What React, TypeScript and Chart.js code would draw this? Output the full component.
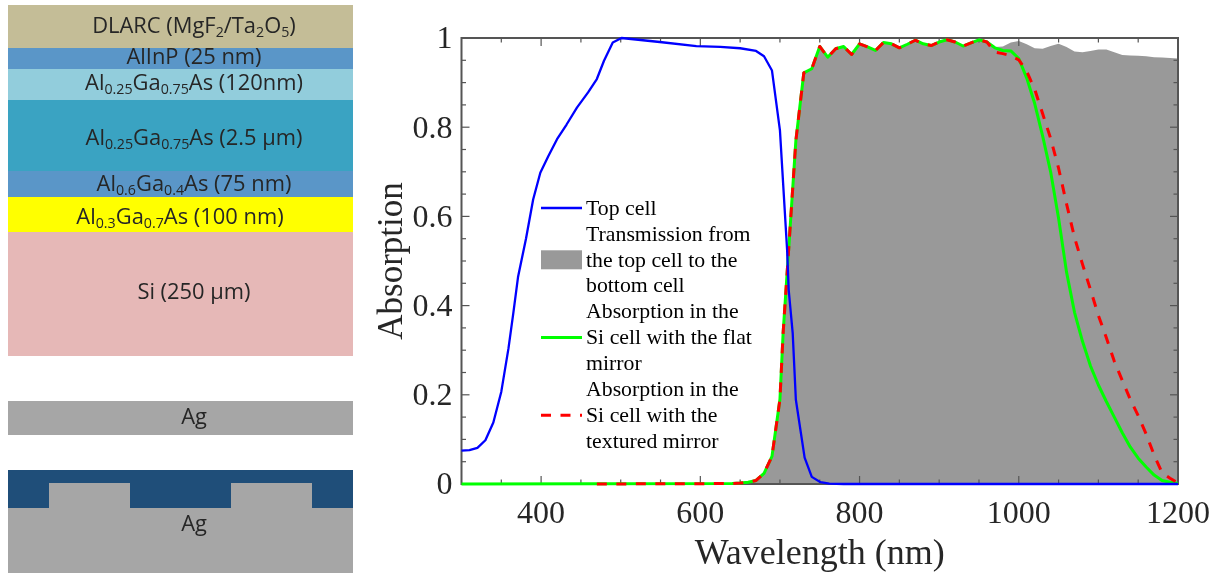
import React, { useEffect, useRef } from "react";
import { Chart, registerables } from "chart.js";

Chart.register(...registerables);

const topCellWl = [300, 310, 320, 330, 340, 350, 359, 365, 371, 381, 390, 399, 409, 420, 432, 445, 459, 470, 479, 490, 501, 549, 595, 625, 650, 670, 680, 690, 700, 709, 711, 716, 720, 731, 740, 751, 762, 780, 1200];
const topCellAbs = [0.075, 0.076, 0.081, 0.098, 0.138, 0.207, 0.304, 0.382, 0.464, 0.55, 0.638, 0.698, 0.735, 0.773, 0.806, 0.844, 0.878, 0.908, 0.949, 0.99, 1.0, 0.991, 0.982, 0.98, 0.977, 0.971, 0.959, 0.927, 0.793, 0.525, 0.435, 0.339, 0.189, 0.059, 0.016, 0.004, 0.001, 0, 0];

const siWl = [300, 640, 650, 660, 670, 680, 690, 700, 704, 710, 720, 730, 740, 750, 760, 770, 780, 790, 800, 810, 820, 830, 840, 850, 860, 870, 880, 890, 900, 910, 920, 930, 940, 950, 960];
const siRising = [0, 0.001, 0.002, 0.004, 0.008, 0.024, 0.062, 0.19, 0.339, 0.5, 0.77, 0.922, 0.931, 0.981, 0.957, 0.976, 0.981, 0.963, 0.987, 0.98, 0.972, 0.99, 0.987, 0.978, 0.986, 0.995, 0.987, 0.983, 0.991, 0.996, 0.991, 0.982, 0.989, 0.996, 0.991];
const texturedStartWl = 470;

const tailWl = [970, 980, 990, 1000, 1010, 1020, 1030, 1040, 1050, 1060, 1070, 1080, 1090, 1100, 1110, 1120, 1130, 1140, 1150, 1160, 1170, 1180, 1190, 1200];
const transmissionTail = [0.98, 0.981, 0.99, 0.993, 0.986, 0.977, 0.976, 0.982, 0.987, 0.98, 0.97, 0.968, 0.971, 0.974, 0.974, 0.968, 0.962, 0.961, 0.96, 0.959, 0.957, 0.956, 0.955, 0.954];
const flatMirrorTail = [0.978, 0.972, 0.971, 0.954, 0.91, 0.853, 0.78, 0.7, 0.596, 0.475, 0.385, 0.32, 0.265, 0.222, 0.185, 0.15, 0.115, 0.083, 0.058, 0.038, 0.02, 0.008, 0.004, 0.001];
const texturedMirrorTail = [0.968, 0.965, 0.96, 0.951, 0.925, 0.885, 0.83, 0.775, 0.708, 0.628, 0.553, 0.493, 0.436, 0.378, 0.328, 0.275, 0.232, 0.19, 0.153, 0.112, 0.065, 0.025, 0.013, 0.002];

const xMajorTicks = [400, 600, 800, 1000, 1200];
const xMinorTicks = [350, 450, 500, 550, 650, 700, 750, 850, 900, 950, 1050, 1100, 1150];
const yMajorTicks = [0, 0.2, 0.4, 0.6, 0.8, 1];
const yMinorTicks = [0.05, 0.1, 0.15, 0.25, 0.3, 0.35, 0.45, 0.5, 0.55, 0.65, 0.7, 0.75, 0.85, 0.9, 0.95];

const legendTopCell = ["Top cell"];
const legendTransmission = ["Transmission from", "the top cell to the", "bottom cell"];
const legendFlat = ["Absorption in the", "Si cell with the flat", "mirror"];
const legendTextured = ["Absorption in the", "Si cell with the", "textured mirror"];

const pairs = (xs: number[], ys: number[]) => xs.map((x, i) => ({ x, y: ys[i] }));
const allWl = [...siWl, ...tailWl];

const AXIS = "#555555";
const SERIF = "'Liberation Serif', 'Times New Roman', serif";
const GRAY_INDEX = 3;

const framePlugin = {
  id: "frame",
  afterDatasetDraw(chart: any, args: any) {
    if (args.index !== GRAY_INDEX) return;
    const { ctx, chartArea: a, scales } = chart;
    const x = scales.x;
    const y = scales.y;
    ctx.save();
    ctx.strokeStyle = AXIS;
    ctx.lineWidth = 1.2;
    const tick = (x1: number, y1: number, x2: number, y2: number) => {
      ctx.beginPath();
      ctx.moveTo(x1, y1);
      ctx.lineTo(x2, y2);
      ctx.stroke();
    };
    const xt = (v: number, len: number) => {
      const p = x.getPixelForValue(v);
      tick(p, a.bottom, p, a.bottom - len);
      tick(p, a.top, p, a.top + len);
    };
    const yt = (v: number, len: number) => {
      const p = y.getPixelForValue(v);
      tick(a.left, p, a.left + len, p);
      tick(a.right, p, a.right - len, p);
    };
    xMajorTicks.forEach((v) => xt(v, 8));
    xMinorTicks.forEach((v) => xt(v, 4.5));
    yMajorTicks.forEach((v) => yt(v, 8));
    yMinorTicks.forEach((v) => yt(v, 4.5));
    ctx.lineWidth = 2;
    ctx.strokeRect(a.left, a.top, a.right - a.left, a.bottom - a.top);
    ctx.restore();
  },
};

const legendPlugin = {
  id: "sideLegend",
  afterDraw(chart: any) {
    const { ctx, data } = chart;
    const x0 = 541;
    const x1 = 582;
    const textX = 586;
    const lineGap = 25.9;
    let row = 0;
    const order = [0, 3, 2, 1];
    ctx.save();
    ctx.font = `21.8px ${SERIF}`;
    ctx.textBaseline = "middle";
    ctx.textAlign = "left";
    ctx.fillStyle = "#000000";
    for (const idx of order) {
      const ds: any = data.datasets[idx];
      const lines: string[] = ds.legendLines;
      const midY = 208 + lineGap * (row + (lines.length - 1) / 2);
      if (ds.fill) {
        ctx.fillStyle = ds.backgroundColor;
        ctx.fillRect(x0, midY - 9.5, x1 - x0, 19);
        ctx.fillStyle = "#000000";
      } else {
        ctx.strokeStyle = ds.borderColor;
        ctx.lineWidth = ds.borderWidth;
        ctx.setLineDash(ds.borderDash || []);
        ctx.beginPath();
        ctx.moveTo(x0, midY);
        ctx.lineTo(x1, midY);
        ctx.stroke();
        ctx.setLineDash([]);
      }
      lines.forEach((t, i) => ctx.fillText(t, textX, 209 + lineGap * (row + i)));
      row += lines.length;
    }
    ctx.restore();
  },
};

function Box(p: { l: number; t: number; r: number; b: number; c: string }) {
  return (
    <div
      style={{
        position: "absolute",
        left: p.l,
        top: p.t,
        width: p.r - p.l,
        height: p.b - p.t,
        background: p.c,
      }}
    />
  );
}

function Label(p: { cx: number; cy: number; children: React.ReactNode }) {
  return (
    <div
      style={{
        position: "absolute",
        left: p.cx - 170,
        top: p.cy - 15,
        width: 340,
        height: 30,
        lineHeight: "30px",
        textAlign: "center",
        whiteSpace: "nowrap",
        fontFamily: "'Open Sans', sans-serif",
        fontSize: 21.9,
        color: "#262626",
      }}
    >
      {p.children}
    </div>
  );
}

const subStyle: React.CSSProperties = { fontSize: "0.65em", lineHeight: 0, verticalAlign: "-0.3em" };
const S = (p: { children: React.ReactNode }) => <span style={subStyle}>{p.children}</span>;

export default function App() {
  const ref = useRef<HTMLCanvasElement>(null);
  useEffect(() => {
    const chart = new Chart(ref.current as HTMLCanvasElement, {
      type: "line",
      data: {
        datasets: [
          {
            label: "Top cell",
            legendLines: legendTopCell,
            data: pairs(topCellWl, topCellAbs),
            borderColor: "#0000ff",
            borderWidth: 2.3,
            fill: false,
            clip: 4,
          },
          {
            label: "Absorption in the Si cell with the textured mirror",
            legendLines: legendTextured,
            data: pairs(allWl, [...siRising, ...texturedMirrorTail]).map((p) =>
              p.x === 300 ? { x: texturedStartWl, y: p.y } : p
            ),
            borderColor: "#ff0000",
            borderWidth: 3,
            borderDash: [10, 9.5],
            fill: false,
            clip: 4,
          },
          {
            label: "Absorption in the Si cell with the flat mirror",
            legendLines: legendFlat,
            data: pairs(allWl, [...siRising, ...flatMirrorTail]),
            borderColor: "#00ff00",
            borderWidth: 3,
            fill: false,
            clip: 4,
          },
          {
            label: "Transmission from the top cell to the bottom cell",
            legendLines: legendTransmission,
            data: pairs(allWl, [...siRising, ...transmissionTail]),
            borderWidth: 0,
            borderColor: "#999999",
            backgroundColor: "#999999",
            fill: "origin",
          },
        ] as any,
      },
      options: {
        responsive: false,
        animation: false,
        parsing: false,
        elements: { point: { radius: 0 }, line: { tension: 0, borderJoinStyle: "round" } },
        layout: { padding: { left: 372, right: 44, top: 38, bottom: 0 } },
        plugins: { legend: { display: false }, tooltip: { enabled: false } },
        scales: {
          x: {
            type: "linear",
            min: 300,
            max: 1200,
            afterBuildTicks: (s: any) => {
              s.ticks = xMajorTicks.map((value) => ({ value }));
            },
            afterFit: (s: any) => {
              s.height = 90;
            },
            grid: { display: false, drawTicks: false },
            border: { display: false },
            ticks: {
              autoSkip: false,
              maxRotation: 0,
              padding: 11,
              color: "#262626",
              font: { family: SERIF, size: 32 },
              callback: (v: any) => String(v),
            },
            title: {
              display: true,
              text: "Wavelength (nm)",
              color: "#262626",
              font: { family: SERIF, size: 36 },
              padding: { top: 3, bottom: -2.5 },
            },
          },
          y: {
            type: "linear",
            min: 0,
            max: 1,
            afterBuildTicks: (s: any) => {
              s.ticks = yMajorTicks.map((value) => ({ value }));
            },
            afterFit: (s: any) => {
              s.width = 89.5;
            },
            grid: { display: false, drawTicks: false },
            border: { display: false },
            ticks: {
              autoSkip: false,
              padding: 9,
              labelOffset: 2,
              color: "#262626",
              font: { family: SERIF, size: 32 },
              callback: (v: any) => String(v),
            },
            title: {
              display: true,
              text: "Absorption",
              color: "#262626",
              font: { family: SERIF, size: 35 },
              padding: 0,
            },
          },
        },
      } as any,
      plugins: [framePlugin, legendPlugin],
    });
    return () => chart.destroy();
  }, []);

  return (
    <div style={{ position: "absolute", left: 0, top: 0, width: 1222, height: 574, background: "#ffffff", overflow: "hidden" }}>
      <canvas ref={ref} width={1222} height={574} style={{ display: "block", position: "absolute", left: 0, top: 0 }} />
      <Box l={8} r={353} t={5} b={48} c="#C4BD97" />
      <Box l={8} r={353} t={48} b={69} c="#5A96C8" />
      <Box l={8} r={353} t={69} b={100} c="#92CDDC" />
      <Box l={8} r={353} t={100} b={171} c="#3AA3C2" />
      <Box l={8} r={353} t={171} b={197} c="#5A96C8" />
      <Box l={8} r={353} t={197} b={232} c="#FFFF00" />
      <Box l={8} r={353} t={232} b={356} c="#E6B8B7" />
      <Box l={8} r={353} t={401} b={435} c="#A6A6A6" />
      <Box l={8} r={353} t={470} b={508} c="#1F4E79" />
      <Box l={8} r={353} t={508} b={573} c="#A6A6A6" />
      <Box l={49} r={130} t={483} b={508} c="#A6A6A6" />
      <Box l={231} r={312} t={483} b={508} c="#A6A6A6" />
      <Label cx={194} cy={25}>DLARC (MgF<S>2</S>/Ta<S>2</S>O<S>5</S>)</Label>
      <Label cx={194} cy={56}>AlInP (25 nm)</Label>
      <Label cx={194} cy={82}>Al<S>0.25</S>Ga<S>0.75</S>As (120nm)</Label>
      <Label cx={194} cy={137}>Al<S>0.25</S>Ga<S>0.75</S>As (2.5 µm)</Label>
      <Label cx={194} cy={183}>Al<S>0.6</S>Ga<S>0.4</S>As (75 nm)</Label>
      <Label cx={180} cy={216}>Al<S>0.3</S>Ga<S>0.7</S>As (100 nm)</Label>
      <Label cx={194} cy={291}>Si (250 µm)</Label>
      <Label cx={194} cy={416}>Ag</Label>
      <Label cx={194} cy={523}>Ag</Label>
    </div>
  );
}
